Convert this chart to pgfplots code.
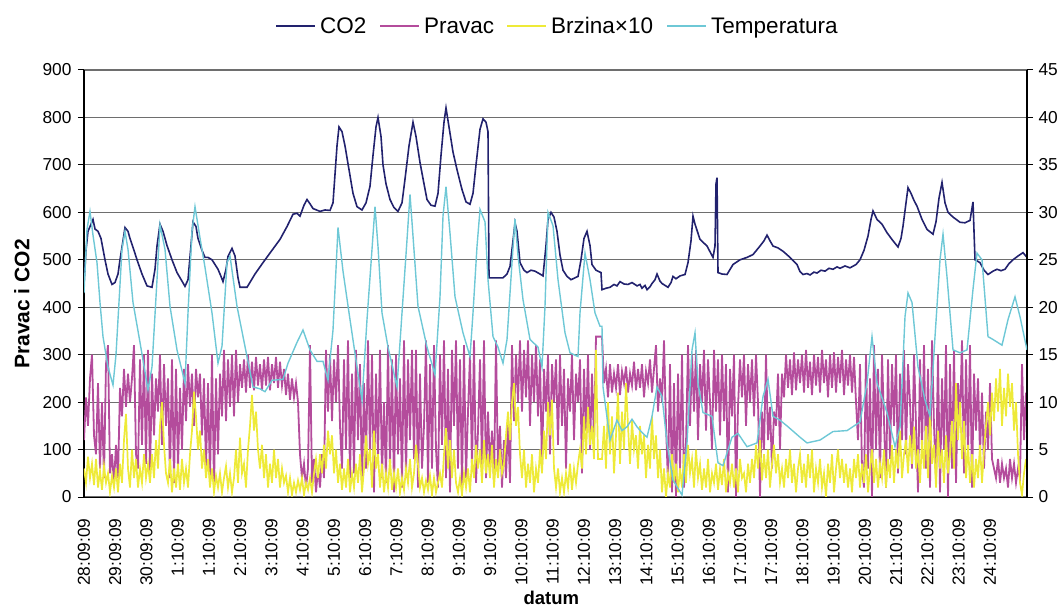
\documentclass[border=0pt]{standalone}
\usepackage{fontspec}
\setmainfont{Liberation Sans}
\usepackage{pgfplots}
\pgfplotsset{compat=1.18}
\definecolor{cco}{RGB}{34,34,110}
\definecolor{cpr}{RGB}{180,76,156}
\definecolor{cbr}{RGB}{238,234,56}
\definecolor{cte}{RGB}{110,200,214}
\definecolor{cgr}{RGB}{110,110,110}
\newcommand{\tickfont}{\fontsize{17.3}{20}\selectfont}
\newcommand{\legfont}{\fontsize{22.5}{26}\selectfont}
\begin{document}
\begin{tikzpicture}
\useasboundingbox (-84pt,-111pt) rectangle (980pt,497pt);
\fill[cco] (192pt,470.2pt) rectangle (231pt,472.4pt);
\node[anchor=base west, inner sep=0pt, font=\legfont] at (236pt,463.7pt) {CO2};
\fill[cpr] (296pt,470.2pt) rectangle (335pt,472.4pt);
\node[anchor=base west, inner sep=0pt, font=\legfont] at (340pt,463.7pt) {Pravac};
\fill[cbr] (423pt,470.2pt) rectangle (462pt,472.4pt);
\node[anchor=base west, inner sep=0pt, font=\legfont] at (467pt,463.7pt) {Brzina×10};
\fill[cte] (583pt,470.2pt) rectangle (622pt,472.4pt);
\node[anchor=base west, inner sep=0pt, font=\legfont] at (627pt,463.7pt) {Temperatura};
\begin{axis}[
  at={(0pt,0pt)}, anchor=south west,
  scale only axis, width=943pt, height=427pt,
  xmin=84, xmax=1027, ymin=0, ymax=900,
  axis x line*=bottom, axis y line*=left,
  x axis line style={draw=none},
  y axis line style={black, line width=1.2pt},
  ytick={0,100,...,900},
  ymajorgrids, grid style={cgr, line width=1.1pt},
  tick align=outside, major tick length=6pt,
  y tick style={black, line width=1pt},
  x tick style={draw=none},
  /pgf/number format/assume math mode=true,
  tick label style={font=\tickfont},
  yticklabel style={xshift=-3pt},
  xtick={84,115.24,146.48,177.72,208.96,240.2,271.44,302.68,333.92,365.16,396.4,427.64,458.88,490.12,521.36,552.6,583.84,615.08,646.32,677.56,708.8,740.04,771.28,802.52,833.76,865,896.24,927.48,958.72,989.96},
  xticklabels={28:09:09,29:09:09,30:09:09,1:10:09,1:10:09,2:10:09,3:10:09,4:10:09,5:10:09,6:10:09,7:10:09,8:10:09,9:10:09,9:10:09,10:10:09,11:10:09,12:10:09,13:10:09,14:10:09,15:10:09,16:10:09,17:10:09,17:10:09,18:10:09,19:10:09,20:10:09,21:10:09,22:10:09,23:10:09,24:10:09},
  xticklabel style={rotate=90, anchor=east},
  xticklabel shift=12pt,
  xlabel={datum}, xlabel style={font=\fontsize{18.5}{21}\selectfont\bfseries, at={(axis description cs:0.4955,-0.2365)}, anchor=center},
  ylabel={Pravac i CO2}, ylabel style={font=\fontsize{21}{24}\selectfont\bfseries, at={(axis description cs:-0.066,0.452)}, anchor=center, rotate=0},
]
\addplot[cco, line width=1.6pt] coordinates {
(84,450)(86,520)(88,560)(91,575)(93,585)(95,565)(98,560)(101,545)(105,500)(108,470)(112,448)(115,452)(118,470)(120,500)(123,540)(125,568)(128,560)(130,545)(134,520)(137,500)(142,470)(147,445)(152,442)(155,480)(157,529)(160,575)(163,560)(167,530)(172,500)(177,473)(182,455)(185,444)(188,458)(191,530)(193,580)(196,570)(198,545)(202,520)(205,505)(208,505)(212,500)(215,490)(218,480)(221,465)(223,454)(226,480)(228,507)(232,524)(235,508)(238,462)(240,442)(247,442)(255,470)(263,494)(272,520)(280,543)(287,570)(293,596)(297,598)(300,592)(304,615)(307,627)(310,618)(313,608)(320,602)(325,605)(330,604)(333,620)(335,680)(337,740)(339,780)(342,770)(345,740)(349,690)(353,640)(357,612)(362,605)(366,620)(370,655)(373,720)(376,780)(378,800)(381,760)(383,700)(386,660)(390,627)(394,610)(398,602)(402,620)(405,670)(409,740)(413,790)(416,760)(420,705)(424,660)(427,627)(431,615)(435,613)(438,640)(441,720)(444,790)(446,820)(449,780)(453,727)(457,690)(462,648)(466,622)(470,617)(473,640)(476,700)(480,775)(483,797)(486,790)(488,770)(489,462)(495,462)(503,462)(507,470)(510,486)(513,540)(515,578)(517,560)(520,494)(524,478)(527,473)(531,478)(535,476)(540,470)(543,466)(546,530)(548,585)(551,600)(554,590)(557,560)(560,510)(563,478)(567,465)(571,458)(575,462)(578,465)(581,500)(584,545)(587,560)(590,530)(592,490)(596,478)(601,473)(602,437)(606,440)(610,442)(614,448)(617,445)(620,454)(624,449)(628,448)(632,452)(637,445)(640,448)(642,440)(645,446)(647,437)(650,443)(652,450)(655,458)(657,470)(660,455)(662,450)(665,446)(668,442)(671,452)(673,465)(676,460)(680,466)(685,469)(688,494)(691,540)(693,592)(695,575)(700,543)(707,529)(713,505)(715,529)(716,660)(717,673)(718,473)(722,470)(727,469)(733,490)(740,500)(747,505)(753,511)(760,529)(764,540)(767,552)(770,540)(773,529)(778,525)(783,518)(790,505)(797,490)(800,475)(803,469)(807,471)(810,468)(814,474)(817,472)(821,478)(825,476)(829,482)(833,480)(837,485)(840,482)(845,487)(850,483)(856,490)(860,500)(864,520)(868,550)(871,585)(873,603)(877,585)(882,575)(887,557)(893,540)(898,527)(901,545)(903,571)(906,620)(908,652)(911,640)(914,625)(917,613)(922,585)(927,564)(933,554)(936,580)(939,630)(942,663)(945,620)(948,600)(953,590)(960,579)(965,578)(970,583)(973,622)(974,560)(975,500)(980,494)(984,478)(988,469)(993,476)(997,480)(1001,477)(1005,480)(1009,492)(1013,500)(1018,508)(1023,515)(1027,505)
};
\addplot[cpr, line width=1.8pt] coordinates {
(84,120)(86,210)(88,150)(90,250)(92,300)(94,130)(96,90)(98,240)(100,60)(102,200)
(104,40)(106,280)(108,320)(110,50)(112,90)(114,30)(116,110)(118,40)(120,230)(122,170)
(124,270)(126,190)(128,260)(130,200)(132,250)(134,320)(136,90)(138,60)(140,290)(142,110)
(144,300)(146,70)(148,310)(150,50)(152,260)(154,130)(156,250)(158,180)(160,300)(162,110)
(164,280)(166,150)(168,250)(170,40)(172,290)(174,30)(176,270)(178,60)(180,230)(182,100)
(184,270)(186,160)(188,280)(190,190)(192,260)(194,150)(196,270)(198,210)(200,260)(202,130)
(204,250)(206,60)(208,240)(210,30)(212,300)(214,20)(216,250)(218,90)(220,260)(222,170)
(224,310)(226,160)(228,290)(230,190)(232,300)(234,170)(236,310)(238,200)(240,280)(242,230)
(244,290)(246,220)(248,300)(250,230)(252,285)(254,225)(256,295)(258,235)(260,280)(262,225)
(264,290)(266,235)(268,295)(270,225)(272,280)(274,240)(276,295)(278,230)(280,285)(282,235)
(284,270)(286,215)(288,260)(290,205)(292,250)(294,210)(296,240)(298,200)(300,90)(302,40)
(304,70)(306,20)(308,60)(310,320)(312,30)(314,80)(316,10)(318,60)(320,20)(322,90)
(324,40)(326,310)(328,180)(330,300)(332,160)(334,290)(336,200)(338,320)(340,150)(342,60)
(344,290)(346,100)(348,330)(350,40)(352,260)(354,50)(356,310)(358,120)(360,280)(362,20)
(364,240)(366,60)(368,330)(370,90)(372,300)(374,10)(376,260)(378,80)(380,310)(382,40)
(384,200)(386,30)(388,320)(390,60)(392,290)(394,10)(396,300)(398,90)(400,250)(402,20)
(404,330)(406,40)(408,290)(410,120)(412,310)(414,80)(416,310)(418,20)(420,260)(422,60)
(424,150)(426,330)(428,30)(430,280)(432,60)(434,320)(436,100)(438,20)(440,300)(442,110)
(444,330)(446,40)(448,270)(450,10)(452,310)(454,150)(456,330)(458,60)(460,290)(462,20)
(464,320)(466,40)(468,180)(470,300)(472,60)(474,330)(476,30)(478,140)(480,290)(482,60)
(484,330)(486,40)(488,180)(490,60)(492,140)(494,30)(496,330)(498,50)(500,150)(502,20)
(504,120)(506,40)(508,160)(510,30)(512,320)(514,160)(516,300)(518,200)(520,330)(522,180)
(524,310)(526,210)(528,330)(530,150)(532,300)(534,200)(536,320)(538,170)(540,290)(542,60)
(544,270)(546,180)(548,300)(550,90)(552,280)(554,200)(556,290)(558,110)(560,300)(562,150)
(564,270)(566,60)(568,250)(570,180)(572,300)(574,120)(576,260)(578,200)(580,290)(582,50)
(584,270)(586,140)(588,300)(590,100)(592,260)(594,120)(596,338)(598,338)(600,338)(602,338)
(604,240)(606,270)(608,210)(610,280)(612,220)(614,260)(616,230)(618,280)(620,215)(622,265)
(624,240)(626,275)(628,220)(630,260)(632,235)(634,285)(636,225)(638,270)(640,230)(642,280)
(644,210)(646,265)(648,240)(650,290)(652,220)(654,270)(656,320)(658,180)(660,250)(662,200)
(664,330)(666,150)(668,30)(670,280)(672,10)(674,240)(676,0)(678,260)(680,60)(682,300)
(684,20)(686,110)(688,320)(690,150)(692,300)(694,180)(696,310)(698,120)(700,280)(702,200)
(704,310)(706,140)(708,290)(710,200)(712,100)(714,310)(716,180)(718,290)(720,130)(722,300)
(724,160)(726,280)(728,10)(730,270)(732,170)(734,300)(736,0)(738,190)(740,290)(742,210)
(744,300)(746,150)(748,280)(750,200)(752,290)(754,170)(756,300)(758,200)(760,0)(762,180)
(764,100)(766,300)(768,120)(770,190)(772,60)(774,180)(776,150)(778,260)(780,100)(782,260)
(784,210)(786,300)(788,230)(790,290)(792,215)(794,305)(796,225)(798,290)(800,240)(802,300)
(804,220)(806,310)(808,230)(810,285)(812,215)(814,300)(816,235)(818,295)(820,220)(822,310)
(824,240)(826,290)(828,210)(830,300)(832,230)(834,305)(836,220)(838,295)(840,240)(842,310)
(844,215)(846,290)(848,235)(850,300)(852,220)(854,295)(856,200)(858,120)(860,280)(862,60)
(864,20)(866,300)(868,60)(870,250)(872,0)(874,320)(876,100)(878,270)(880,40)(882,300)
(884,160)(886,20)(888,290)(890,80)(892,280)(894,150)(896,300)(898,50)(900,260)(902,120)
(904,310)(906,90)(908,280)(910,200)(912,60)(914,300)(916,150)(918,10)(920,290)(922,100)
(924,320)(926,60)(928,270)(930,20)(932,330)(934,150)(936,40)(938,300)(940,10)(942,250)
(944,100)(946,320)(948,0)(950,280)(952,60)(954,310)(956,30)(958,240)(960,160)(962,330)
(964,50)(966,290)(968,90)(970,320)(972,20)(974,260)(976,140)(978,250)(980,90)(982,220)
(984,60)(986,180)(988,100)(990,240)(992,80)(994,60)(996,40)(998,80)(1000,30)(1002,70)
(1004,40)(1006,60)(1008,20)(1010,80)(1012,40)(1014,70)(1016,30)(1018,60)(1020,40)(1022,280)
(1024,120)(1026,220)
};
\addplot[cbr, line width=1.7pt] coordinates {
(84,60)(86,30)(88,85)(90,40)(92,70)(94,25)(96,80)(98,20)(100,55)(102,15)
(104,65)(106,30)(108,50)(110,10)(112,45)(114,20)(116,60)(118,10)(120,70)(122,30)
(124,120)(126,175)(128,60)(130,20)(132,100)(134,40)(136,80)(138,20)(140,60)(142,30)
(144,90)(146,40)(148,70)(150,30)(152,90)(154,40)(156,120)(158,60)(160,150)(162,200)
(164,110)(166,50)(168,30)(170,80)(172,10)(174,60)(176,20)(178,70)(180,15)(182,80)
(184,30)(186,60)(188,20)(190,90)(192,140)(194,222)(196,170)(198,100)(200,140)(202,60)
(204,100)(206,40)(208,80)(210,20)(212,60)(214,10)(216,45)(218,20)(220,50)(222,10)
(224,40)(226,65)(228,20)(230,50)(232,10)(234,40)(236,100)(238,30)(240,125)(242,50)
(244,70)(246,20)(248,100)(250,150)(252,215)(254,140)(256,180)(258,100)(260,60)(262,110)
(264,40)(266,90)(268,20)(270,70)(272,30)(274,100)(276,40)(278,80)(280,20)(282,60)
(284,30)(286,45)(288,10)(290,40)(292,5)(294,30)(296,10)(298,35)(300,15)(302,40)
(304,5)(306,30)(308,15)(310,40)(312,10)(314,50)(316,80)(318,40)(320,90)(322,50)
(324,110)(326,60)(328,140)(330,90)(332,130)(334,50)(336,100)(338,30)(340,70)(342,15)
(344,60)(346,20)(348,80)(350,10)(352,50)(354,20)(356,70)(358,30)(360,90)(362,10)
(364,60)(366,130)(368,70)(370,100)(372,20)(374,140)(376,60)(378,90)(380,20)(382,70)
(384,10)(386,50)(388,20)(390,80)(392,15)(394,50)(396,20)(398,60)(400,10)(402,40)
(404,15)(406,60)(408,30)(410,80)(412,20)(414,50)(416,110)(418,70)(420,20)(422,40)
(424,10)(426,35)(428,15)(430,45)(432,5)(434,40)(436,10)(438,30)(440,50)(442,20)
(444,90)(446,145)(448,60)(450,120)(452,40)(454,100)(456,30)(458,10)(460,40)(462,5)
(464,50)(466,20)(468,60)(470,10)(472,80)(474,40)(476,110)(478,60)(480,100)(482,30)
(484,120)(486,50)(488,90)(490,40)(492,110)(494,20)(496,80)(498,40)(500,100)(502,50)
(504,70)(506,130)(508,180)(510,120)(512,200)(514,240)(516,150)(518,190)(520,90)(522,40)
(524,100)(526,20)(528,70)(530,30)(532,90)(534,10)(536,60)(538,30)(540,100)(542,50)
(544,140)(546,80)(548,200)(550,130)(552,205)(554,60)(556,20)(558,60)(560,10)(562,40)
(564,10)(566,50)(568,20)(570,70)(572,15)(574,60)(576,30)(578,70)(580,100)(582,60)
(584,170)(586,90)(588,190)(590,110)(592,150)(594,80)(596,310)(598,80)(600,80)(602,80)
(604,150)(606,60)(608,200)(610,90)(612,170)(614,50)(616,130)(618,220)(620,70)(622,180)
(624,100)(626,240)(628,150)(630,70)(632,160)(634,100)(636,130)(638,60)(640,150)(642,90)
(644,130)(646,40)(648,110)(650,60)(652,170)(654,80)(656,130)(658,40)(660,100)(662,10)
(664,60)(666,0)(668,50)(670,20)(672,90)(674,30)(676,70)(678,10)(680,60)(682,20)
(684,90)(686,30)(688,110)(690,50)(692,80)(694,20)(696,100)(698,40)(700,70)(702,15)
(704,60)(706,20)(708,80)(710,10)(712,50)(714,30)(716,70)(718,15)(720,60)(722,25)
(724,80)(726,10)(728,50)(730,30)(732,70)(734,20)(736,60)(738,10)(740,80)(742,40)
(744,50)(746,10)(748,70)(750,30)(752,80)(754,40)(756,110)(758,60)(760,120)(762,35)
(764,90)(766,40)(768,100)(770,20)(772,70)(774,110)(776,50)(778,90)(780,30)(782,60)
(784,20)(786,80)(788,40)(790,100)(792,30)(794,70)(796,10)(798,60)(800,90)(802,30)
(804,70)(806,20)(808,90)(810,40)(812,100)(814,10)(816,60)(818,30)(820,80)(822,20)
(824,50)(826,0)(828,70)(830,30)(832,90)(834,10)(836,60)(838,100)(840,40)(842,80)
(844,30)(846,70)(848,20)(850,60)(852,10)(854,80)(856,40)(858,90)(860,20)(862,70)
(864,30)(866,90)(868,10)(870,60)(872,100)(874,30)(876,80)(878,20)(880,70)(882,40)
(884,100)(886,20)(888,80)(890,40)(892,110)(894,30)(896,100)(898,60)(900,140)(902,40)
(904,90)(906,120)(908,50)(910,130)(912,70)(914,148)(916,60)(918,100)(920,30)(922,120)
(924,60)(926,150)(928,40)(930,180)(932,70)(934,110)(936,20)(938,140)(940,60)(942,100)
(944,30)(946,130)(948,50)(950,90)(952,160)(954,60)(956,240)(958,120)(960,200)(962,80)
(964,160)(966,40)(968,110)(970,30)(972,90)(974,20)(976,80)(978,40)(980,110)(982,30)
(984,100)(986,150)(988,200)(990,130)(992,220)(994,160)(996,250)(998,180)(1000,270)(1002,150)
(1004,230)(1006,170)(1008,260)(1010,190)(1012,240)(1014,140)(1016,200)(1018,90)(1020,30)(1022,5)
(1024,50)(1026,80)
};
\draw[black, line width=5pt] ([yshift=-2.5pt]rel axis cs:0,0) -- ([yshift=-2.5pt]rel axis cs:1,0);
\end{axis}
\begin{axis}[
  at={(0pt,0pt)}, anchor=south west,
  scale only axis, width=943pt, height=427pt,
  xmin=84, xmax=1027, ymin=0, ymax=45,
  axis x line=none, axis y line*=right,
  y axis line style={black, line width=1.2pt},
  ytick={0,5,...,45},
  tick align=outside, major tick length=6pt,
  y tick style={black, line width=1pt},
  /pgf/number format/assume math mode=true,
  tick label style={font=\tickfont},
  yticklabel style={xshift=2pt},
]
\addplot[cte, line width=1.4pt] coordinates {
(84,21.5)(87,28.2)(90,30.1)(93,27.6)(97,24.7)(100,20.5)(103,16.9)(108,13.7)(113,11.8)(116,15.0)(118,18.7)(122,26.1)(125,28.0)(128,26.1)(133,20.5)(140,16.3)(148,11.3)(152,13.7)(157,22.9)(160,28.7)(165,26.1)(170,20.1)(177,15.5)(185,12.0)(188,19.4)(192,28.0)(195,30.6)(200,27.3)(205,24.2)(212,19.4)(218,14.1)(222,15.9)(227,24.7)(230,25.4)(237,20.1)(247,14.8)(253,11.6)(260,11.4)(265,11.1)(272,12.3)(283,12.4)(288,14.1)(297,16.3)(303,17.6)(310,15.5)(317,14.3)(323,14.3)(328,12.3)(333,17.6)(336,24)(338,28.4)(343,23.8)(350,18.7)(357,13.7)(362,10.2)(367,18.7)(372,26.1)(375,30.6)(378,26.4)(382,19.4)(388,15.8)(397,11.6)(402,19.4)(407,27.1)(410,31.9)(413,27.5)(418,20.1)(427,15.8)(435,12.9)(440,21.1)(443,29.6)(446,32.7)(450,27.8)(455,21.1)(463,17.3)(470,14.8)(473,19.4)(477,26.4)(480,30.3)(485,29.0)(488,22.9)(493,16.9)(498,15.8)(503,14.1)(507,16.6)(512,24.7)(515,29.3)(518,25.4)(523,20.8)(530,16.6)(538,15.8)(542,13.7)(545,20.1)(548,30.0)(553,28.6)(558,22.9)(565,17.3)(570,15.2)(578,14.8)(580,19.4)(585,25.7)(590,22.9)(595,19.4)(600,18.0)(602,18.0)(603,11.6)(610,6.0)(617,8.1)(622,7.0)(627,7.4)(632,8.2)(637,7.4)(642,6.8)(647,6.3)(652,8.5)(657,11.6)(662,10.6)(667,5.7)(673,1.8)(682,0.2)(687,5.7)(692,15.5)(695,17.3)(698,12.0)(703,8.9)(712,8.5)(718,3.6)(723,3.3)(732,6.3)(738,6.7)(747,5.3)(757,5.7)(763,10.6)(768,12.4)(773,8.5)(780,8.1)(788,7.4)(800,6.3)(807,5.7)(820,6.0)(833,6.9)(847,7.0)(860,7.9)(867,12.0)(872,16.9)(877,12.0)(887,8.9)(895,5.3)(900,7.4)(905,19.0)(908,21.5)(912,20.5)(918,13.7)(925,10.2)(930,8.5)(935,16.9)(940,25.0)(943,27.7)(947,23.2)(953,15.5)(960,15.2)(967,15.5)(973,21.9)(977,25.7)(982,25.0)(988,16.9)(993,16.6)(1002,16.0)(1008,18.7)(1015,21.1)(1020,19.0)(1027,15.5)
};
\end{axis}
\end{tikzpicture}
\end{document}
